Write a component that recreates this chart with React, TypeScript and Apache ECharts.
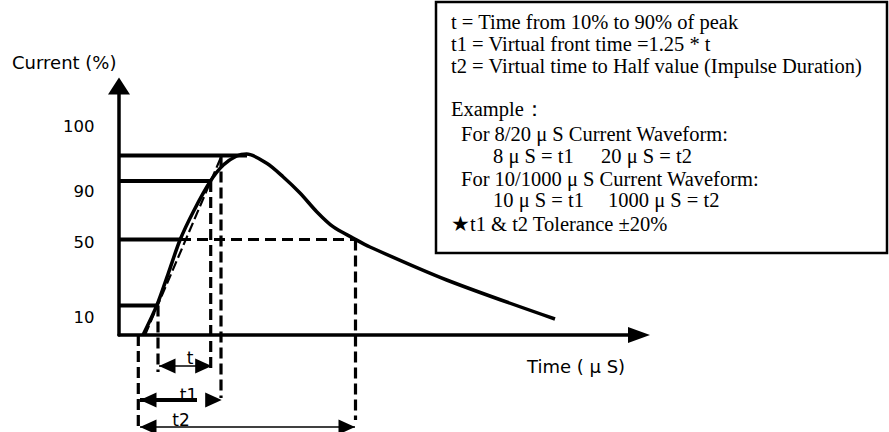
import React, { useEffect, useRef } from "react";
import * as echarts from "echarts";

// Diagram units (schematic): origin at the corner of the two axes.
const X_MAX = 520;
const Y_MAX = 249;

// Impulse current waveform (schematic)
const CURVE_X = [24, 37.7, 49.3, 61, 74.3, 91, 104.3, 117.7, 127.7, 147.7, 164, 181, 197.7, 214, 234, 251, 327.7, 436];
const CURVE_Y = [0, 29.3, 61.7, 95, 123.3, 153.3, 170, 179, 181, 171.7, 158.3, 142, 123.3, 108.3, 97, 88, 55, 16];

// Reference levels: peak, 90 %, 50 %, 10 %
const LEVEL_Y = [179.5, 154, 95.5, 29.5];
const LEVEL_END_X = [128, 91, 61, 38];
const HALF_DASH_END_X = 236.5;

// Virtual front line through the 10 % and 90 % points
const FRONT_X = [26, 102.7];
const FRONT_Y = [0, 179.5];

// Vertical dashed markers
const MARKER_X = [19.3, 39, 91.7, 102, 236.5];
const MARKER_TOP = [0, 29.5, 154, 179.5, 95.5];
const MARKER_BOTTOM = [-95, -37, -37, -63, -85];

// Dimension spans t, t1, t2
const SPAN_NAMES = ["t", "t1", "t2"];
const SPAN_FROM = [40, 21, 21];
const SPAN_TO = [92.7, 102.7, 236];
const SPAN_Y = [-31, -65, -92];
const SPAN_LABEL_X = [71, 69.5, 62];
const SPAN_LABEL_Y = [-23, -60, -84.5];
const T1_SHAFT_END = 78;

// Tick labels of the current axis
const TICK_LABELS = ["100", "90", "50", "10"];
const TICK_Y = [209, 144, 92.3, 17.5];
const TICK_X = -24.5;

const Y_TITLE = "Current (%)";
const X_TITLE = "Time ( μ S)";

// Notes box
const NOTE_LINES = [
  "t = Time from 10% to 90% of peak",
  "t1 = Virtual front time =1.25 * t",
  "t2 = Virtual time to Half value (Impulse Duration)",
  "Example：",
  "For 8/20 μ S Current Waveform:",
  "8 μ S = t1",
  "20 μ S = t2",
  "For 10/1000 μ S Current Waveform:",
  "10 μ S = t1",
  "1000 μ S = t2",
  "★t1 & t2 Tolerance ±20%",
];
const NOTE_POS: number[][] = [
  [451, 22], [451, 44], [451, 65.5], [451, 108.5], [461, 133.5], [493, 155.5],
  [601, 155.5], [461, 178.5], [493, 200], [608, 200], [451, 223.5],
];

const BLACK = "#000";

function segSeries(segs: number[][], style: any, z = 3) {
  return {
    type: "custom",
    coordinateSystem: "cartesian2d",
    clip: false,
    silent: true,
    z,
    data: segs,
    renderItem: (params: any, api: any) => {
      const a = api.coord([api.value(0), api.value(1)]);
      const b = api.coord([api.value(2), api.value(3)]);
      return {
        type: "line",
        shape: { x1: a[0], y1: a[1], x2: b[0], y2: b[1] },
        style: { stroke: BLACK, fill: null, ...style },
      };
    },
  };
}

function textSeries(xs: number[], ys: number[], texts: string[], size: number, align: string) {
  return {
    type: "custom",
    coordinateSystem: "cartesian2d",
    clip: false,
    silent: true,
    z: 6,
    data: xs.map((x, i) => [x, ys[i]]),
    renderItem: (params: any, api: any) => {
      const p = api.coord([api.value(0), api.value(1)]);
      return {
        type: "text",
        x: p[0],
        y: p[1],
        style: {
          text: texts[params.dataIndex],
          fill: BLACK,
          fontSize: size,
          fontFamily: "DejaVu Sans",
          align,
          verticalAlign: "middle",
        },
      };
    },
  };
}

export default function App() {
  const ref = useRef<HTMLDivElement>(null);
  useEffect(() => {
    document.body.style.margin = "0";
    const chart = echarts.init(ref.current!, null, { renderer: "svg" });

    const levelSegs = LEVEL_Y.map((y, i) => [0, y, LEVEL_END_X[i], y]);
    const halfDash = [[LEVEL_END_X[2], LEVEL_Y[2], HALF_DASH_END_X, LEVEL_Y[2]]];
    const markerSegs = MARKER_X.map((x, i) => [x, MARKER_TOP[i], x, MARKER_BOTTOM[i]]);
    const frontSeg = [[FRONT_X[0], FRONT_Y[0], FRONT_X[1], FRONT_Y[1]]];
    const thinShafts = [
      [SPAN_FROM[0], SPAN_Y[0], SPAN_TO[0], SPAN_Y[0]],
      [SPAN_FROM[2], SPAN_Y[2], SPAN_TO[2], SPAN_Y[2]],
    ];
    const thickShaft = [[SPAN_FROM[1], SPAN_Y[1], T1_SHAFT_END, SPAN_Y[1]]];
    const heads: number[][] = [];
    SPAN_NAMES.forEach((_, i) => {
      heads.push([SPAN_FROM[i], SPAN_Y[i], -1]);
      heads.push([SPAN_TO[i], SPAN_Y[i], 1]);
    });

    const axisCommon = {
      type: "value",
      axisTick: { show: false },
      axisLabel: { show: false },
      splitLine: { show: false },
    };

    const graphic: any[] = [
      {
        type: "rect",
        shape: { x: 436, y: 2, width: 451, height: 251 },
        style: { fill: "#fff", stroke: BLACK, lineWidth: 2.5 },
        z: 1,
      },
      ...NOTE_LINES.map((t, i) => ({
        type: "text",
        x: NOTE_POS[i][0],
        y: NOTE_POS[i][1],
        z: 2,
        style: {
          text: t,
          fill: BLACK,
          fontSize: 20.5,
          fontFamily: '"Liberation Serif", "DejaVu Serif", serif',
          align: "left",
          verticalAlign: "middle",
        },
      })),
    ];

    chart.setOption({
      animation: false,
      backgroundColor: "#fff",
      grid: { left: 119, top: 86, right: 250, bottom: 97, outerBoundsMode: "none" },
      xAxis: {
        ...axisCommon,
        min: 0,
        max: X_MAX,
        axisLine: {
          show: true,
          symbol: ["none", "triangle"],
          symbolSize: [16, 22],
          lineStyle: { color: BLACK, width: 3.5 },
        },
      },
      yAxis: {
        ...axisCommon,
        min: 0,
        max: Y_MAX,
        axisLine: {
          show: true,
          symbol: ["none", "triangle"],
          symbolSize: [22, 17],
          lineStyle: { color: BLACK, width: 3.5 },
        },
      },
      graphic,
      series: [
        {
          type: "line",
          data: CURVE_X.map((x, i) => [x, CURVE_Y[i]]),
          smooth: 0.3,
          showSymbol: false,
          clip: false,
          silent: true,
          z: 4,
          lineStyle: { color: BLACK, width: 3.5 },
        },
        segSeries(levelSegs, { lineWidth: 4 }),
        segSeries(halfDash, { lineWidth: 2.8, lineDash: [11, 6] }),
        segSeries(markerSegs, { lineWidth: 3.2, lineDash: [11, 5] }),
        segSeries(frontSeg, { lineWidth: 2.2, lineDash: [10, 4] }),
        segSeries(thinShafts, { lineWidth: 1.4 }),
        segSeries(thickShaft, { lineWidth: 3.8 }),
        {
          type: "custom",
          coordinateSystem: "cartesian2d",
          clip: false,
          silent: true,
          z: 5,
          data: heads,
          renderItem: (params: any, api: any) => {
            const tip = api.coord([api.value(0), api.value(1)]);
            const dir = api.value(2);
            const L = 16.5;
            const H = 7.5;
            return {
              type: "polygon",
              shape: {
                points: [
                  [tip[0], tip[1]],
                  [tip[0] - dir * L, tip[1] - H],
                  [tip[0] - dir * L, tip[1] + H],
                ],
              },
              style: { fill: BLACK },
            };
          },
        },
        textSeries(TICK_LABELS.map(() => TICK_X), TICK_Y, TICK_LABELS, 16.5, "right"),
        textSeries(SPAN_LABEL_X, SPAN_LABEL_Y, SPAN_NAMES, 17, "center"),
        textSeries([-107], [273], [Y_TITLE], 18, "left"),
        textSeries([408], [-31], [X_TITLE], 18, "left"),
      ],
    });
    return () => chart.dispose();
  }, []);
  return <div ref={ref} style={{ width: 889, height: 432 }} />;
}
